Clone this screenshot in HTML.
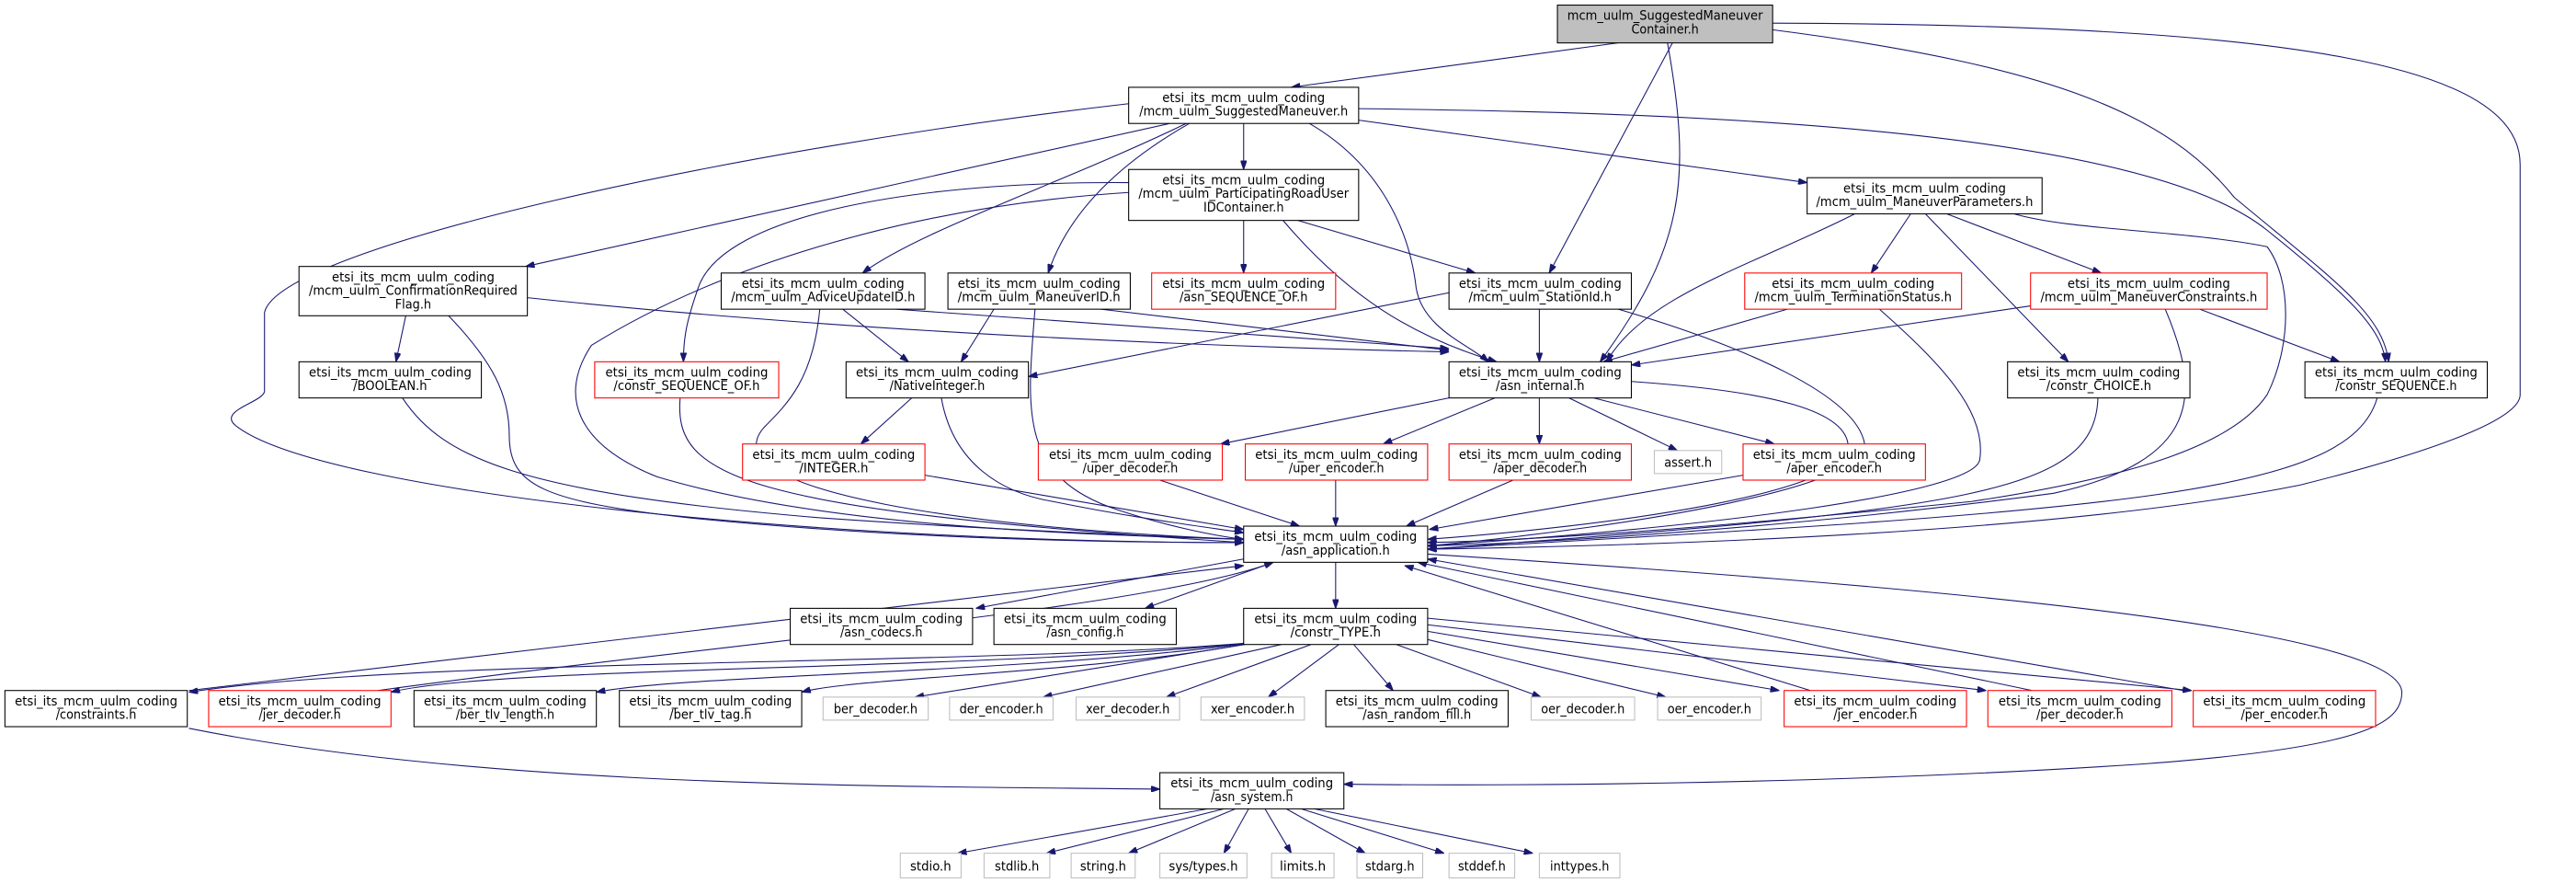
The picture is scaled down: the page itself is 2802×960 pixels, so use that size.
<!DOCTYPE html>
<html><head><meta charset="utf-8"><style>
html,body{margin:0;padding:0;background:#fff;}
svg{display:block;}
text{font-family:"DejaVu Sans Condensed","DejaVu Sans","Liberation Sans",sans-serif;font-size:8px;fill:#000;text-anchor:middle;}
.e{fill:none;stroke:#191970;stroke-width:0.6;marker-end:url(#a);}
.b{fill:#fff;stroke:#000;stroke-width:0.6;}
.r{fill:#fff;stroke:#ff0000;stroke-width:0.6;}
.g{fill:#fff;stroke:#bfbfbf;stroke-width:0.6;}
</style></head><body>
<svg width="2802" height="960" viewBox="0 0 1568 537" xmlns="http://www.w3.org/2000/svg">
<defs><marker id="a" viewBox="0 0 10 7" refX="10" refY="3.5" markerWidth="5.5" markerHeight="3.8" markerUnits="userSpaceOnUse" orient="auto"><path d="M0,0L10,3.5L0,7z" fill="#191970" stroke="#191970"/></marker></defs>

<!-- edges -->
<path class="e" d="M985,26 L786,53"/>
<path class="e" d="M1018,26 L943,166"/>
<path class="e" d="M1015,26 C1030,110 1025,150 974,220"/>
<path class="e" d="M1079,18 C1250,40 1320,70 1360,120 C1420,170 1450,190 1454,220"/>
<path class="e" d="M1079,14 C1400,15 1534,40 1534,100 L1534,240 C1534,252 1500,270 1400,295 C1250,325 1000,332 869,334"/>
<path class="e" d="M757,75 L757,103"/>
<path class="e" d="M827,73 L1100,111"/>
<path class="e" d="M827,66 C1000,68 1300,75 1380,140 C1430,180 1450,200 1452,220"/>
<path class="e" d="M687,63 C450,90 170,150 161,190 L161,238 C160,245 130,250 145,260 C200,300 500,330 757,330"/>
<path class="e" d="M712,75 L320,162"/>
<path class="e" d="M722,75 C650,110 560,140 525,166"/>
<path class="e" d="M724,75 C680,100 650,130 638,166"/>
<path class="e" d="M797,75 C840,100 858,140 862,175 C866,200 895,210 906,220"/>
<path class="e" d="M757,134 L757,166"/>
<path class="e" d="M790,134 L898,166"/>
<path class="e" d="M781,134 C820,180 860,205 911,220"/>
<path class="e" d="M687,111 C560,110 440,130 425,175 C418,195 416,205 416,220"/>
<path class="e" d="M687,117 C560,125 440,160 360,210 C340,240 350,270 400,290 C500,320 650,325 757,328"/>
<path class="e" d="M1129,130 C1070,160 1000,180 978,220"/>
<path class="e" d="M1163,130 L1139,166"/>
<path class="e" d="M1172,130 L1259,220"/>
<path class="e" d="M1185,130 L1279,166"/>
<path class="e" d="M1226,130 C1260,140 1330,140 1380,150 C1395,170 1395,210 1380,240 C1360,270 1300,290 1200,305 C1050,320 950,328 869,330"/>
<path class="e" d="M247,192 L241,220"/>
<path class="e" d="M321,181 C500,200 700,210 882,214"/>
<path class="e" d="M273,192 C300,220 310,240 310,265 C310,295 330,305 420,315 C550,328 680,330 757,330"/>
<path class="e" d="M513,188 L553,220"/>
<path class="e" d="M545,188 L882,212"/>
<path class="e" d="M499,188 C495,230 480,245 465,260 C430,300 600,322 757,328"/>
<path class="e" d="M605,188 L585,220"/>
<path class="e" d="M670,188 L882,213"/>
<path class="e" d="M630,188 C625,250 620,290 680,310 C710,320 740,326 757,328"/>
<path class="e" d="M882,178 L626,229"/>
<path class="e" d="M937,188 L937,220"/>
<path class="e" d="M985,188 C1060,210 1130,240 1135,270 C1140,295 1000,320 869,332"/>
<path class="e" d="M1088,188 L976,220"/>
<path class="e" d="M1144,188 C1180,220 1210,250 1205,280 C1200,300 1050,320 869,332"/>
<path class="e" d="M1236,186 L993,222"/>
<path class="e" d="M1339,188 L1424,220"/>
<path class="e" d="M1318,188 C1340,240 1340,280 1250,300 C1100,320 950,330 869,332"/>
<path class="e" d="M414,242 C410,290 450,310 757,330"/>
<path class="e" d="M245,242 C270,280 320,300 500,315 C600,322 700,326 757,328"/>
<path class="e" d="M555,242 L524,270"/>
<path class="e" d="M573,242 C580,282 610,300 641,305 C690,315 730,320 757,324"/>
<path class="e" d="M563,289 L757,322"/>
<path class="e" d="M1277,242 C1275,300 1200,310 869,334"/>
<path class="e" d="M1447,242 C1430,300 1300,310 869,334"/>
<path class="e" d="M882,242 L743,270"/>
<path class="e" d="M910,242 L842,270"/>
<path class="e" d="M937,242 L937,270"/>
<path class="e" d="M955,242 L1021,274"/>
<path class="e" d="M970,242 L1080,270"/>
<path class="e" d="M993,232 C1080,238 1125,250 1125,272 C1125,300 980,320 869,328"/>
<path class="e" d="M706,292 L791,320"/>
<path class="e" d="M813,292 L813,320"/>
<path class="e" d="M921,292 L856,320"/>
<path class="e" d="M1061,289 L870,322"/>
<path class="e" d="M757,340 L594,370"/>
<path class="e" d="M775,342 L697,370"/>
<path class="e" d="M813,342 L813,370"/>
<path class="e" d="M869,337 C1150,355 1460,380 1462,421 C1462,440 1440,455 1300,465 C1100,478 900,478 818,477"/>
<path class="e" d="M115,420 L757,344"/>
<path class="e" d="M230,420 C450,390 700,370 775,342"/>
<path class="e" d="M1102,420 L855,344"/>
<path class="e" d="M1237,420 L863,342"/>
<path class="e" d="M1329,420 L869,340"/>
<path class="e" d="M760,391 C600,405 250,400 115,421"/>
<path class="e" d="M761,391 C600,408 300,405 238,421"/>
<path class="e" d="M762,391 C620,410 420,410 363,421"/>
<path class="e" d="M763,391 C660,410 520,412 488,421"/>
<path class="e" d="M764,391 L557,424"/>
<path class="e" d="M780,392 L635,424"/>
<path class="e" d="M798,392 L710,424"/>
<path class="e" d="M815,392 L772,424"/>
<path class="e" d="M824,392 L848,420"/>
<path class="e" d="M850,392 L938,424"/>
<path class="e" d="M869,389 L1014,424"/>
<path class="e" d="M869,384 L1083,420"/>
<path class="e" d="M869,380 L1209,420"/>
<path class="e" d="M869,376 L1334,420"/>
<path class="e" d="M115,443 C300,480 550,478 706,480"/>
<path class="e" d="M735,492 L583,519"/>
<path class="e" d="M745,492 L637,519"/>
<path class="e" d="M752,492 L687,519"/>
<path class="e" d="M760,492 L745,519"/>
<path class="e" d="M770,492 L786,519"/>
<path class="e" d="M783,492 L831,519"/>
<path class="e" d="M792,492 L879,519"/>
<path class="e" d="M800,492 L933,519"/>

<!-- nodes -->
<rect x="948" y="3" width="131" height="23" fill="#bfbfbf" stroke="#000" stroke-width="0.6"/>
<text x="1013.5" y="12" textLength="119" lengthAdjust="spacingAndGlyphs">mcm_uulm_SuggestedManeuver</text>
<text x="1013.5" y="20.3" textLength="41" lengthAdjust="spacingAndGlyphs">Container.h</text>

<rect class="b" x="687" y="53" width="140" height="22"/>
<text x="757" y="62" textLength="99" lengthAdjust="spacingAndGlyphs">etsi_its_mcm_uulm_coding</text>
<text x="757" y="70.2" textLength="127" lengthAdjust="spacingAndGlyphs">/mcm_uulm_SuggestedManeuver.h</text>

<rect class="b" x="687" y="103" width="140" height="31"/>
<text x="757" y="112" textLength="99" lengthAdjust="spacingAndGlyphs">etsi_its_mcm_uulm_coding</text>
<text x="757" y="120.3" textLength="128" lengthAdjust="spacingAndGlyphs">/mcm_uulm_ParticipatingRoadUser</text>
<text x="757" y="128.6" textLength="49" lengthAdjust="spacingAndGlyphs">IDContainer.h</text>

<rect class="b" x="1100" y="108" width="143" height="22"/>
<text x="1171.5" y="117" textLength="99" lengthAdjust="spacingAndGlyphs">etsi_its_mcm_uulm_coding</text>
<text x="1171.5" y="125.2" textLength="132" lengthAdjust="spacingAndGlyphs">/mcm_uulm_ManeuverParameters.h</text>

<rect class="b" x="182" y="162" width="139" height="30"/>
<text x="251.5" y="171" textLength="99" lengthAdjust="spacingAndGlyphs">etsi_its_mcm_uulm_coding</text>
<text x="251.5" y="179.3" textLength="127" lengthAdjust="spacingAndGlyphs">/mcm_uulm_ConfirmationRequired</text>
<text x="251.5" y="187.6" textLength="22" lengthAdjust="spacingAndGlyphs">Flag.h</text>

<rect class="b" x="439" y="166" width="124" height="22"/>
<text x="501" y="175" textLength="99" lengthAdjust="spacingAndGlyphs">etsi_its_mcm_uulm_coding</text>
<text x="501" y="183.2" textLength="112" lengthAdjust="spacingAndGlyphs">/mcm_uulm_AdviceUpdateID.h</text>

<rect class="b" x="577" y="166" width="111" height="22"/>
<text x="632.5" y="175" textLength="99" lengthAdjust="spacingAndGlyphs">etsi_its_mcm_uulm_coding</text>
<text x="632.5" y="183.2" textLength="99" lengthAdjust="spacingAndGlyphs">/mcm_uulm_ManeuverID.h</text>

<rect class="r" x="701" y="166" width="112" height="22"/>
<text x="757" y="175" textLength="99" lengthAdjust="spacingAndGlyphs">etsi_its_mcm_uulm_coding</text>
<text x="757" y="183.2" textLength="78" lengthAdjust="spacingAndGlyphs">/asn_SEQUENCE_OF.h</text>

<rect class="b" x="882" y="166" width="111" height="22"/>
<text x="937.5" y="175" textLength="99" lengthAdjust="spacingAndGlyphs">etsi_its_mcm_uulm_coding</text>
<text x="937.5" y="183.2" textLength="87" lengthAdjust="spacingAndGlyphs">/mcm_uulm_StationId.h</text>

<rect class="r" x="1062" y="166" width="132" height="22"/>
<text x="1128" y="175" textLength="99" lengthAdjust="spacingAndGlyphs">etsi_its_mcm_uulm_coding</text>
<text x="1128" y="183.2" textLength="120" lengthAdjust="spacingAndGlyphs">/mcm_uulm_TerminationStatus.h</text>

<rect class="r" x="1236" y="166" width="144" height="22"/>
<text x="1308" y="175" textLength="99" lengthAdjust="spacingAndGlyphs">etsi_its_mcm_uulm_coding</text>
<text x="1308" y="183.2" textLength="132" lengthAdjust="spacingAndGlyphs">/mcm_uulm_ManeuverConstraints.h</text>

<rect class="b" x="182" y="220" width="111" height="22"/>
<text x="237.5" y="229" textLength="99" lengthAdjust="spacingAndGlyphs">etsi_its_mcm_uulm_coding</text>
<text x="237.5" y="237.2" textLength="45" lengthAdjust="spacingAndGlyphs">/BOOLEAN.h</text>

<rect class="r" x="362" y="220" width="112" height="22"/>
<text x="418" y="229" textLength="99" lengthAdjust="spacingAndGlyphs">etsi_its_mcm_uulm_coding</text>
<text x="418" y="237.2" textLength="89" lengthAdjust="spacingAndGlyphs">/constr_SEQUENCE_OF.h</text>

<rect class="b" x="515" y="220" width="111" height="22"/>
<text x="570.5" y="229" textLength="99" lengthAdjust="spacingAndGlyphs">etsi_its_mcm_uulm_coding</text>
<text x="570.5" y="237.2" textLength="58" lengthAdjust="spacingAndGlyphs">/NativeInteger.h</text>

<rect class="b" x="882" y="220" width="111" height="22"/>
<text x="937.5" y="229" textLength="99" lengthAdjust="spacingAndGlyphs">etsi_its_mcm_uulm_coding</text>
<text x="937.5" y="237.2" textLength="54" lengthAdjust="spacingAndGlyphs">/asn_internal.h</text>

<rect class="b" x="1222" y="220" width="111" height="22"/>
<text x="1277.5" y="229" textLength="99" lengthAdjust="spacingAndGlyphs">etsi_its_mcm_uulm_coding</text>
<text x="1277.5" y="237.2" textLength="64" lengthAdjust="spacingAndGlyphs">/constr_CHOICE.h</text>

<rect class="b" x="1403" y="220" width="111" height="22"/>
<text x="1458.5" y="229" textLength="99" lengthAdjust="spacingAndGlyphs">etsi_its_mcm_uulm_coding</text>
<text x="1458.5" y="237.2" textLength="74" lengthAdjust="spacingAndGlyphs">/constr_SEQUENCE.h</text>

<rect class="r" x="452" y="270" width="111" height="22"/>
<text x="507.5" y="279" textLength="99" lengthAdjust="spacingAndGlyphs">etsi_its_mcm_uulm_coding</text>
<text x="507.5" y="287.2" textLength="42" lengthAdjust="spacingAndGlyphs">/INTEGER.h</text>

<rect class="r" x="632" y="270" width="112" height="22"/>
<text x="688" y="279" textLength="99" lengthAdjust="spacingAndGlyphs">etsi_its_mcm_uulm_coding</text>
<text x="688" y="287.2" textLength="58" lengthAdjust="spacingAndGlyphs">/uper_decoder.h</text>

<rect class="r" x="758" y="270" width="111" height="22"/>
<text x="813.5" y="279" textLength="99" lengthAdjust="spacingAndGlyphs">etsi_its_mcm_uulm_coding</text>
<text x="813.5" y="287.2" textLength="58" lengthAdjust="spacingAndGlyphs">/uper_encoder.h</text>

<rect class="r" x="882" y="270" width="111" height="22"/>
<text x="937.5" y="279" textLength="99" lengthAdjust="spacingAndGlyphs">etsi_its_mcm_uulm_coding</text>
<text x="937.5" y="287.2" textLength="57" lengthAdjust="spacingAndGlyphs">/aper_decoder.h</text>

<rect class="g" x="1007" y="274" width="41" height="14"/>
<text x="1027.5" y="284" textLength="29" lengthAdjust="spacingAndGlyphs">assert.h</text>

<rect class="r" x="1061" y="270" width="111" height="22"/>
<text x="1116.5" y="279" textLength="99" lengthAdjust="spacingAndGlyphs">etsi_its_mcm_uulm_coding</text>
<text x="1116.5" y="287.2" textLength="58" lengthAdjust="spacingAndGlyphs">/aper_encoder.h</text>

<rect class="b" x="757" y="320" width="112" height="22"/>
<text x="813" y="329" textLength="99" lengthAdjust="spacingAndGlyphs">etsi_its_mcm_uulm_coding</text>
<text x="813" y="337.2" textLength="66" lengthAdjust="spacingAndGlyphs">/asn_application.h</text>

<rect class="b" x="481" y="370" width="111" height="22"/>
<text x="536.5" y="379" textLength="99" lengthAdjust="spacingAndGlyphs">etsi_its_mcm_uulm_coding</text>
<text x="536.5" y="387.2" textLength="50" lengthAdjust="spacingAndGlyphs">/asn_codecs.h</text>

<rect class="b" x="605" y="370" width="111" height="22"/>
<text x="660.5" y="379" textLength="99" lengthAdjust="spacingAndGlyphs">etsi_its_mcm_uulm_coding</text>
<text x="660.5" y="387.2" textLength="47" lengthAdjust="spacingAndGlyphs">/asn_config.h</text>

<rect class="b" x="757" y="370" width="112" height="22"/>
<text x="813" y="379" textLength="99" lengthAdjust="spacingAndGlyphs">etsi_its_mcm_uulm_coding</text>
<text x="813" y="387.2" textLength="55" lengthAdjust="spacingAndGlyphs">/constr_TYPE.h</text>

<rect class="b" x="3" y="420" width="111" height="22"/>
<text x="58.5" y="429" textLength="99" lengthAdjust="spacingAndGlyphs">etsi_its_mcm_uulm_coding</text>
<text x="58.5" y="437.2" textLength="49" lengthAdjust="spacingAndGlyphs">/constraints.h</text>

<rect class="r" x="127" y="420" width="111" height="22"/>
<text x="182.5" y="429" textLength="99" lengthAdjust="spacingAndGlyphs">etsi_its_mcm_uulm_coding</text>
<text x="182.5" y="437.2" textLength="50" lengthAdjust="spacingAndGlyphs">/jer_decoder.h</text>

<rect class="b" x="252" y="420" width="111" height="22"/>
<text x="307.5" y="429" textLength="99" lengthAdjust="spacingAndGlyphs">etsi_its_mcm_uulm_coding</text>
<text x="307.5" y="437.2" textLength="60" lengthAdjust="spacingAndGlyphs">/ber_tlv_length.h</text>

<rect class="b" x="377" y="420" width="111" height="22"/>
<text x="432.5" y="429" textLength="99" lengthAdjust="spacingAndGlyphs">etsi_its_mcm_uulm_coding</text>
<text x="432.5" y="437.2" textLength="50" lengthAdjust="spacingAndGlyphs">/ber_tlv_tag.h</text>

<rect class="g" x="501" y="424" width="64" height="14"/>
<text x="533" y="434" textLength="51" lengthAdjust="spacingAndGlyphs">ber_decoder.h</text>
<rect class="g" x="578" y="424" width="63" height="14"/>
<text x="609.5" y="434" textLength="51" lengthAdjust="spacingAndGlyphs">der_encoder.h</text>
<rect class="g" x="655" y="424" width="63" height="14"/>
<text x="686.5" y="434" textLength="51" lengthAdjust="spacingAndGlyphs">xer_decoder.h</text>
<rect class="g" x="731" y="424" width="63" height="14"/>
<text x="762.5" y="434" textLength="51" lengthAdjust="spacingAndGlyphs">xer_encoder.h</text>

<rect class="b" x="807" y="420" width="111" height="22"/>
<text x="862.5" y="429" textLength="99" lengthAdjust="spacingAndGlyphs">etsi_its_mcm_uulm_coding</text>
<text x="862.5" y="437.2" textLength="66" lengthAdjust="spacingAndGlyphs">/asn_random_fill.h</text>

<rect class="g" x="932" y="424" width="63" height="14"/>
<text x="963.5" y="434" textLength="51" lengthAdjust="spacingAndGlyphs">oer_decoder.h</text>
<rect class="g" x="1009" y="424" width="63" height="14"/>
<text x="1040.5" y="434" textLength="51" lengthAdjust="spacingAndGlyphs">oer_encoder.h</text>

<rect class="r" x="1086" y="420" width="111" height="22"/>
<text x="1141.5" y="429" textLength="99" lengthAdjust="spacingAndGlyphs">etsi_its_mcm_uulm_coding</text>
<text x="1141.5" y="437.2" textLength="51" lengthAdjust="spacingAndGlyphs">/jer_encoder.h</text>

<rect class="r" x="1210" y="420" width="112" height="22"/>
<text x="1266" y="429" textLength="99" lengthAdjust="spacingAndGlyphs">etsi_its_mcm_uulm_coding</text>
<text x="1266" y="437.2" textLength="53" lengthAdjust="spacingAndGlyphs">/per_decoder.h</text>

<rect class="r" x="1335" y="420" width="111" height="22"/>
<text x="1390.5" y="429" textLength="99" lengthAdjust="spacingAndGlyphs">etsi_its_mcm_uulm_coding</text>
<text x="1390.5" y="437.2" textLength="53" lengthAdjust="spacingAndGlyphs">/per_encoder.h</text>

<rect class="b" x="706" y="470" width="112" height="22"/>
<text x="762" y="479" textLength="99" lengthAdjust="spacingAndGlyphs">etsi_its_mcm_uulm_coding</text>
<text x="762" y="487.2" textLength="50" lengthAdjust="spacingAndGlyphs">/asn_system.h</text>

<rect class="g" x="548" y="519" width="37" height="15"/>
<text x="566.5" y="529.5" textLength="25" lengthAdjust="spacingAndGlyphs">stdio.h</text>
<rect class="g" x="599" y="519" width="40" height="15"/>
<text x="619" y="529.5" textLength="27" lengthAdjust="spacingAndGlyphs">stdlib.h</text>
<rect class="g" x="652" y="519" width="39" height="15"/>
<text x="671.5" y="529.5" textLength="28" lengthAdjust="spacingAndGlyphs">string.h</text>
<rect class="g" x="706" y="519" width="53" height="15"/>
<text x="732.5" y="529.5" textLength="42" lengthAdjust="spacingAndGlyphs">sys/types.h</text>
<rect class="g" x="774" y="519" width="38" height="15"/>
<text x="793" y="529.5" textLength="28" lengthAdjust="spacingAndGlyphs">limits.h</text>
<rect class="g" x="826" y="519" width="40" height="15"/>
<text x="846" y="529.5" textLength="30" lengthAdjust="spacingAndGlyphs">stdarg.h</text>
<rect class="g" x="882" y="519" width="40" height="15"/>
<text x="902" y="529.5" textLength="29" lengthAdjust="spacingAndGlyphs">stddef.h</text>
<rect class="g" x="937" y="519" width="49" height="15"/>
<text x="961.5" y="529.5" textLength="36" lengthAdjust="spacingAndGlyphs">inttypes.h</text>
</svg>
</body></html>
